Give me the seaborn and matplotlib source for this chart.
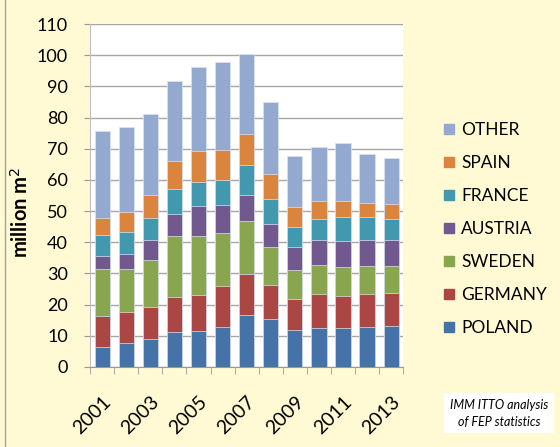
import matplotlib

matplotlib.use("Agg")
import matplotlib.pyplot as plt
import pandas as pd
import seaborn as sns
from matplotlib.lines import Line2D

# values (million m2)
years = list(range(2001, 2014))
poland = [6.3, 7.6, 8.9, 11.1, 11.4, 12.9, 16.6, 15.3, 11.9, 12.4, 12.4, 12.8, 13.3]
germany = [10.2, 10.1, 10.3, 11.2, 11.8, 13.0, 13.1, 11.0, 9.9, 11.0, 10.4, 10.6, 10.4]
sweden = [14.9, 13.7, 15.1, 19.8, 18.9, 17.2, 17.0, 12.2, 9.3, 9.3, 9.3, 9.0, 8.7]
austria = [4.3, 4.8, 6.4, 7.1, 9.5, 9.0, 8.4, 7.5, 7.4, 8.0, 8.4, 8.3, 8.3]
france = [6.6, 7.1, 7.1, 7.8, 7.8, 7.8, 9.6, 7.8, 6.3, 6.8, 7.5, 7.3, 6.8]
spain = [5.6, 6.5, 7.3, 9.0, 9.9, 9.7, 10.1, 8.1, 6.5, 5.8, 5.3, 4.7, 4.8]
other = [27.7, 27.1, 26.0, 25.6, 26.9, 28.4, 25.7, 23.0, 16.3, 17.3, 18.5, 15.7, 14.8]

series = ["POLAND", "GERMANY", "SWEDEN", "AUSTRIA", "FRANCE", "SPAIN", "OTHER"]
colors = ["#4572A7", "#AA4643", "#89A54E", "#71588F", "#4198AF", "#DB843D", "#93A9CF"]

df = pd.DataFrame(
    dict(zip(series, [poland, germany, sweden, austria, france, spain, other])),
    index=years,
)
cum = df.cumsum(axis=1)

plt.rcParams["font.family"] = ["Lato", "DejaVu Sans"]

fig = plt.figure(figsize=(5.6, 4.47), dpi=100, facecolor="#FFFAD4")
ax = fig.add_axes([0.161, 0.179, 0.559, 0.767])
ax.set_facecolor("white")

# draw tallest layer first, then cover it with the lower cumulative totals
for name, color in reversed(list(zip(series, colors))):
    sns.barplot(
        x=[str(y) for y in years],
        y=cum[name].values,
        color=color,
        width=0.63,
        saturation=1,
        edgecolor="#dbe3f0",
        linewidth=0.5,
        ax=ax,
        zorder=3,
    )

ax.set_ylim(0, 110)
ax.set_xlim(-0.5, len(years) - 0.5)
ax.set_yticks(range(0, 111, 10))
ax.tick_params(axis="y", labelsize=13, length=4, color="#999999", pad=12)
ax.yaxis.grid(True, color="#A6A6A6", linewidth=1, zorder=0)
ax.set_axisbelow(True)

ax.set_xticks(range(len(years)))
ax.set_xticklabels([str(y) if y % 2 == 1 else "" for y in years],
                   rotation=45, ha="right", rotation_mode="anchor", fontsize=14)
ax.tick_params(axis="x", length=0, pad=19)
ax.set_xticks([i - 0.5 for i in range(len(years) + 1)], minor=True)
ax.tick_params(axis="x", which="minor", length=5, color="#999999")
ax.set_xlabel("")

ax.set_ylabel("million m$^2$", fontsize=14.5, fontweight="bold")
ax.yaxis.set_label_coords(-0.185, 0.45)

for side in ["top", "right"]:
    ax.spines[side].set_visible(False)
ax.spines["left"].set_color("#BFBFBF")
ax.spines["bottom"].set_color("#999999")

handles = [
    Line2D([], [], marker="s", linestyle="", markersize=7, color=c, label=s)
    for s, c in zip(series, colors)
][::-1]
fig.legend(
    handles=handles,
    loc="upper left",
    bbox_to_anchor=(0.762, 0.762),
    frameon=False,
    fontsize=12.5,
    labelspacing=0.98,
    handletextpad=0.3,
    handlelength=0.8,
)

fig.text(
    0.891, 0.075, "IMM ITTO analysis\nof FEP statistics",
    ha="center", va="center", fontsize=9, style="italic", linespacing=1.5,
    bbox=dict(facecolor="white", edgecolor="none", pad=4),
)

fig.add_artist(Line2D([0.009, 0.009], [0.0, 1.0], color="#A0A0A0", linewidth=1))

fig.savefig("out.png", dpi=100, facecolor=fig.get_facecolor())
